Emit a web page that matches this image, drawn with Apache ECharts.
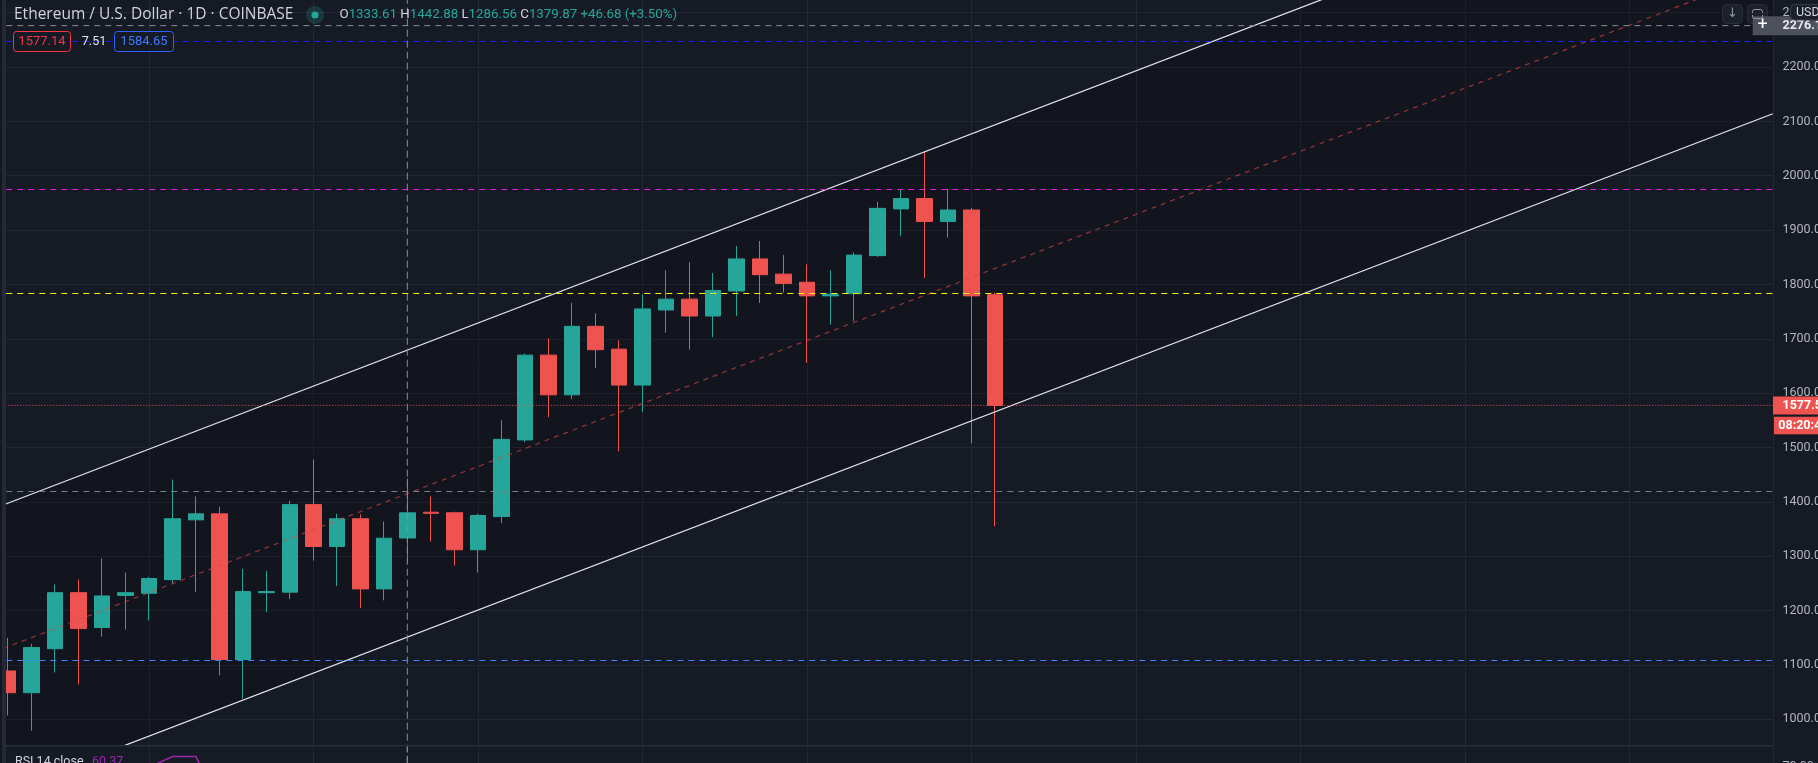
<!DOCTYPE html>
<html>
<head>
<meta charset="utf-8">
<script src="https://cdn.jsdelivr.net/npm/echarts@6/dist/echarts.min.js"></script>
<style>
html,body{margin:0;padding:0;background:#161a25;overflow:hidden;width:1818px;height:763px;position:relative;}
#c{position:absolute;left:-40px;top:-60px;width:1858px;height:993px;}
</style>
</head>
<body>
<div id="c"></div>
<script>
// ---------- data ----------
const candleX = [1,2,3,4,5,6,7,8,9,10,11,12,13,14,15,16,17,18,19,20,21,22,23,24,25,26,27,28,29,30,31,32,33,34,35,36,37,38,39,40,41,42,43];
const opens  = [1089,1049,1130,1233,1169,1228,1232,1257,1367,1378,1110,1233,1234,1395,1318,1369,1240,1333.61,1381,1380,1312,1373,1514,1670,1597,1723,1681,1615,1753,1773,1742,1788,1847,1819,1804,1779,1783,1853,1939,1958,1916,1937,1781];
const closes = [1049,1132,1233,1167,1227,1233,1259,1369,1378,1110,1235,1235,1395,1318,1369,1240,1333.19,1379.87,1379,1312,1375,1515,1670,1597,1723,1680,1615,1755,1773,1742,1789,1847,1818,1802,1779,1782,1854,1940,1958,1916,1937,1779,1577.54];
const lows   = [1007,979,1086,1064,1152,1165,1182,1251,1234,1081,1038,1197,1221,1292,1245,1205,1219,1286.56,1327,1283,1270,1361,1510,1556,1589,1646,1493,1565,1711,1680,1703,1742,1766,1785,1656,1726,1733,1851,1889,1812,1886,1508,1355];
const highs  = [1150,1139,1248,1257,1296,1270,1262,1441,1410,1391,1277,1273,1402,1478,1378,1377,1364,1442.88,1410,1382,1378,1550,1673,1701,1766,1747,1697,1782,1826,1841,1821,1871,1880,1854,1837,1826,1859,1952,1975,2044,1976,1941,1785];
const rsiValues = [52,57,63,57,61,62,69.7,75,75.1,50.8,56,56,63,58,61,54,58,60.37,60,56,59,65,69,65,68,66,62,67,68,66,68,69,68,67,65,65,68,70,70.5,68,69,58,48];

// drawn lines (x = candle position, y = price)
const channelUpper = [[0, 1381], [76.1, 2642]];
const channelLower = [[0, 853],  [76.1, 2114]];
const channelMid   = [[0, 1117], [76.1, 2378]];
const levelPrices  = [2247, 1974.7, 1783.4, 1419.1, 1108.2];
const levelColors  = ['#2020ff', '#e31de3', '#ffff00', '#7c7f88', '#3d86ff'];
const crosshairX = 18;
const crosshairPrice = 2276.12;
const lastPrice = 1577.54;

// axis ranges / ticks
const priceMin = 900, priceMax = 2400, priceStep = 100;
const xMin = 0, xMax = 76.11, xStep = 7;
const rsiMin = 0, rsiMax = 80, rsiStep = 10, rsiLabelValue = 70;

// header texts
const titleText = 'Ethereum / U.S. Dollar · 1D · COINBASE';
const ohlcLabels = ['O', 'H', 'L', 'C'];
const ohlcValues = ['1333.61', '1442.88', '1286.56', '1379.87'];
const changeText = '+46.68 (+3.50%)';
const bidText = '1577.14', spreadText = '7.51', askText = '1584.65';
const countdownText = '08:20:41';
const rsiTitle = 'RSI 14 close', rsiValueText = '60.37';

// ---------- chart ----------
const FONT = 'Roboto, "Noto Sans", "DejaVu Sans", sans-serif';
const TFONT = '"Open Sans", Roboto, sans-serif';
const UP = '#26a69a', DOWN = '#ef5350';
const GRIDC = '#232733';
const OX = 40, OY = 60;      // canvas offset (container is larger than the page)

const candleData = candleX.map((x, i) => [x, opens[i], closes[i], lows[i], highs[i]]);
const rsiData = candleX.map((x, i) => [x, rsiValues[i]]);

const chart = echarts.init(document.getElementById('c'), null, {renderer: 'canvas', width: 1858, height: 993});

const hLine = (name, p, color, type, z) => ({
  type: 'line', name: name, xAxisIndex: 0, yAxisIndex: 0, z: z || 5, silent: true, clip: true,
  data: [[xMin, p], [xMax, p]], showSymbol: false, symbol: 'none', emphasis: {disabled: true},
  lineStyle: {color: color, width: 1, type: type, opacity: 1}
});
const vLine = (name, x, gi, lo, hi) => ({
  type: 'line', name: name, xAxisIndex: gi, yAxisIndex: gi, z: 9, silent: true, clip: true,
  data: [[x, lo], [x, hi]], showSymbol: false, symbol: 'none', emphasis: {disabled: true},
  lineStyle: {color: '#8a8d96', width: 1, type: [7, 4], opacity: 1}
});

const option = {
  animation: false,
  backgroundColor: '#161a25',
  grid: [
    {left: OX - 15.7, right: 45, top: OY - 41.7, bottom: 993 - (OY + 773.7), outerBoundsMode: 'none', containLabel: false},
    {left: OX - 15.7, right: 45, top: OY + 746.6, height: 160, outerBoundsMode: 'none', containLabel: false}
  ],
  xAxis: [
    {type: 'value', gridIndex: 0, min: xMin, max: xMax, interval: xStep,
     axisLine: {show: false}, axisTick: {show: false}, axisLabel: {show: false},
     splitLine: {show: true, lineStyle: {color: GRIDC, width: 1}}},
    {type: 'value', gridIndex: 1, min: xMin, max: xMax, interval: xStep, z: 7,
     axisLine: {show: false}, axisTick: {show: false}, axisLabel: {show: false},
     splitLine: {show: true, lineStyle: {color: GRIDC, width: 1}}}
  ],
  yAxis: [
    {type: 'value', gridIndex: 0, position: 'right', min: priceMin, max: priceMax, interval: priceStep,
     axisLine: {show: true, lineStyle: {color: '#2a2e39', width: 1}}, axisTick: {show: false},
     axisLabel: {color: '#b2b5be', fontSize: 12.5, fontFamily: FONT, margin: 9.5, formatter: v => v.toFixed(2)},
     splitLine: {show: true, lineStyle: {color: GRIDC, width: 1}}},
    {type: 'value', gridIndex: 1, position: 'right', min: rsiMin, max: rsiMax, interval: rsiStep, z: 7,
     axisLine: {show: true, lineStyle: {color: '#2a2e39', width: 1}}, axisTick: {show: false},
     axisLabel: {color: '#b2b5be', fontSize: 12.5, fontFamily: FONT, margin: 9.5,
                 formatter: v => (v === rsiLabelValue ? v.toFixed(2) : '')},
     splitLine: {show: false}}
  ],
  series: [
    {
      type: 'custom', name: 'channelFill', xAxisIndex: 0, yAxisIndex: 0, z: 1, silent: true, clip: true,
      data: [[0, 1000]],
      renderItem: (params, api) => {
        const pts = [api.coord(channelUpper[0]), api.coord(channelUpper[1]),
                     api.coord(channelLower[1]), api.coord(channelLower[0])];
        return {type: 'polygon', shape: {points: pts}, style: {fill: 'rgba(0,0,0,0.17)'}};
      }
    },
    {
      type: 'candlestick', name: 'ETHUSD', xAxisIndex: 0, yAxisIndex: 0, z: 2,
      data: candleData, encode: {x: 0, y: [1, 2, 3, 4]},
      barWidth: 16, clip: true,
      itemStyle: {color: UP, color0: DOWN, borderColor: UP, borderColor0: DOWN, borderWidth: 1}
    },
    {type: 'line', name: 'upper', xAxisIndex: 0, yAxisIndex: 0, z: 4, data: channelUpper,
     showSymbol: false, symbol: 'none', clip: true, silent: true,
     lineStyle: {color: '#e4e6ec', width: 1.25}},
    {type: 'line', name: 'lower', xAxisIndex: 0, yAxisIndex: 0, z: 4, data: channelLower,
     showSymbol: false, symbol: 'none', clip: true, silent: true,
     lineStyle: {color: '#e4e6ec', width: 1.25}},
    {type: 'line', name: 'mid', xAxisIndex: 0, yAxisIndex: 0, z: 4, data: channelMid,
     showSymbol: false, symbol: 'none', clip: true, silent: true,
     lineStyle: {color: 'rgba(220,70,66,0.6)', width: 1.3, type: [5, 5]}},
    hLine('level0', levelPrices[0], levelColors[0], [6, 5]),
    hLine('level1', levelPrices[1], levelColors[1], [6, 5]),
    hLine('level2', levelPrices[2], levelColors[2], [6, 5]),
    hLine('level3', levelPrices[3], levelColors[3], [6, 5]),
    hLine('level4', levelPrices[4], levelColors[4], [6, 5]),
    hLine('crossH', crosshairPrice, '#8a8d96', [6, 5]),
    hLine('last', lastPrice, DOWN, [1, 2]),
    vLine('crossV', crosshairX, 0, priceMin, priceMax),
    {type: 'line', name: 'RSI', xAxisIndex: 1, yAxisIndex: 1, z: 8, data: rsiData,
     showSymbol: false, symbol: 'none', clip: true, silent: true,
     lineStyle: {color: '#9c27b0', width: 1.5}},
    vLine('crossV2', crosshairX, 1, rsiMin, rsiMax)
  ]
};
chart.setOption(option);

// ---------- overlays (page coordinates; prices placed through the library's scales) ----------
const yOf = p => chart.convertToPixel({yAxisIndex: 0}, p) - OY;
const axisX = chart.convertToPixel({xAxisIndex: 0}, xMax) - OX;
const yLast = yOf(lastPrice);
const yCross = yOf(crosshairPrice);

const R = (x, y, w, h, style, z, r) => ({type: 'rect', z: z, silent: true,
  shape: {x: x + OX, y: y + OY, width: w, height: h, r: r || 0}, style: style});
const T = (x, y, style, z) => ({type: 'text', z: z, silent: true, x: x + OX, y: y + OY, style: style});
const C = (cx, cy, r, style, z) => ({type: 'circle', z: z, silent: true,
  shape: {cx: cx + OX, cy: cy + OY, r: r}, style: style});

const ohlcStr = ohlcLabels.map((l, i) => '{l|' + l + '}{v|' + ohlcValues[i] + '}').join('{v| }') +
                '{v| ' + changeText + '}';
const F = s => s + 'px ' + FONT;
const OS = 13.3;

const g = [
  // RSI pane background + separator
  R(-OX, 745.7, 1900, 300, {fill: '#161a25'}, 6),
  R(0, 745, axisX, 1.4, {fill: '#2a2e39'}, 10),
  // left strip
  R(0, 0, 2, 763, {fill: '#131722'}, 20),
  R(2, 0, 4, 763, {fill: '#252934'}, 20),
  // header
  T(14, 15, {text: titleText, fill: '#d1d4dc', fontSize: 15.5, fontFamily: TFONT, textVerticalAlign: 'middle'}, 20),
  C(315, 15, 9, {fill: 'rgba(38,166,154,0.22)'}, 20),
  C(315, 15, 3.5, {fill: UP}, 21),
  T(339.5, 15, {text: ohlcStr, fontSize: OS, fontFamily: FONT, textVerticalAlign: 'middle',
              rich: {l: {fill: '#d1d4dc', fontSize: OS, fontFamily: FONT},
                     v: {fill: UP, fontSize: OS, fontFamily: FONT}}}, 20),
  // bid / spread / ask
  R(13.5, 31.5, 57, 20, {fill: '#161a25', stroke: '#f23645', lineWidth: 1}, 20, 3),
  T(42, 41.5, {text: bidText, fill: '#f23645', font: F(13), textAlign: 'center', textVerticalAlign: 'middle'}, 21),
  T(94, 41.5, {text: spreadText, fill: '#e0e3eb', font: F(12.5), textAlign: 'center', textVerticalAlign: 'middle'}, 21),
  R(114.5, 31.5, 59, 20, {fill: '#161a25', stroke: '#2962ff', lineWidth: 1}, 20, 3),
  T(144, 41.5, {text: askText, fill: '#3a7bff', font: F(13), textAlign: 'center', textVerticalAlign: 'middle'}, 21),
  // top-right buttons
  R(1722.5, 4.5, 20, 19, {fill: 'rgba(30,34,45,0.9)', stroke: '#2a2e39', lineWidth: 1}, 20, 4),
  T(1732.5, 14, {text: '↓', fill: '#9598a1', font: F(13), textAlign: 'center', textVerticalAlign: 'middle'}, 21),
  R(1747.5, 4.5, 20, 19, {fill: 'rgba(30,34,45,0.9)', stroke: '#2a2e39', lineWidth: 1}, 20, 4),
  R(1752.5, 9.5, 10, 9, {fill: 'none', stroke: '#9598a1', lineWidth: 1}, 21, 2),
  R(1751, 13, 13, 2, {fill: '#1e222d'}, 22),
  // crosshair price label
  R(1752.7, yCross - 9.5, 70, 19, {fill: '#4d515c'}, 20),
  T(1762.5, yCross, {text: '+', fill: '#ffffff', font: F(18), textAlign: 'center', textVerticalAlign: 'middle'}, 21),
  T(axisX + 9.5, yCross, {text: crosshairPrice.toFixed(2), fill: '#e8eaef', font: 'bold ' + F(12.5), textVerticalAlign: 'middle'}, 21),
  R(1790.5, 4.5, 40, 15.5, {fill: '#1c202b', stroke: '#363a45', lineWidth: 1}, 23, 4),
  T(1796, 12.5, {text: 'USD', fill: '#d1d4dc', font: F(12.5), textVerticalAlign: 'middle'}, 24),
  // last price label + countdown
  R(axisX, yLast - 9, 50, 18, {fill: DOWN}, 20),
  T(axisX + 9.5, yLast, {text: lastPrice.toFixed(2), fill: '#ffffff', font: 'bold ' + F(12.5), textVerticalAlign: 'middle'}, 21),
  R(axisX + 1, yLast + 11.3, 50, 17.6, {fill: DOWN}, 20),
  T(axisX + 5.3, yLast + 20.2, {text: countdownText, fill: '#ffffff', font: 'bold ' + F(12.5), textVerticalAlign: 'middle'}, 21),
  // RSI pane legend
  T(15, 755, {text: rsiTitle, fill: '#d1d4dc', font: F(12.5), textVerticalAlign: 'top'}, 20),
  T(92, 755, {text: rsiValueText, fill: '#9c27b0', font: F(12.5), textVerticalAlign: 'top'}, 20)
];
chart.setOption({graphic: g});
</script>
</body>
</html>
